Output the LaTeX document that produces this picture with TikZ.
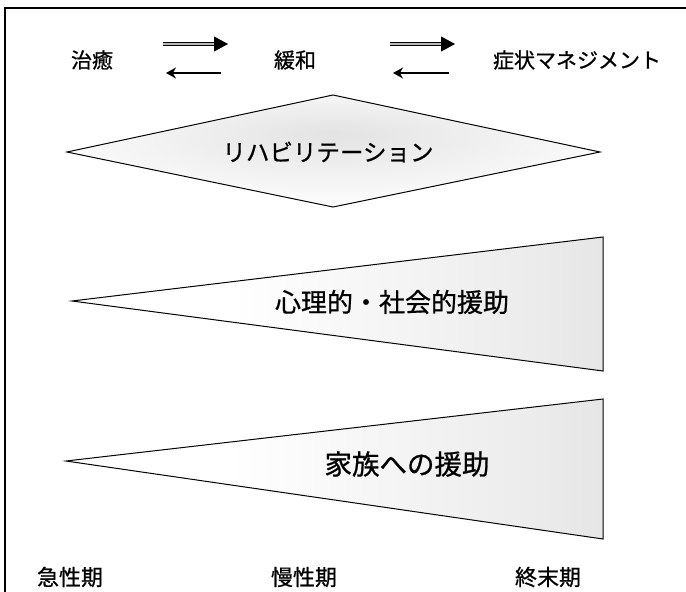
\documentclass[tikz,border=0pt]{standalone}
\usepackage{fontspec}
\setmainfont{Noto Sans CJK JP}[FakeBold=0.8]
\usetikzlibrary{arrows.meta}
\pgfdeclarehorizontalshading{trifade}{100bp}{color(0bp)=(white); color(40bp)=(white); color(70bp)=(black!8); color(100bp)=(black!20)}
\pgfdeclareradialshading{diafade}{\pgfpoint{0bp}{8bp}}{color(0bp)=(black!11); color(14bp)=(black!6); color(30bp)=(white); color(50bp)=(white)}
\tikzset{
  toplabel/.style={font=\fontsize{21}{21}\selectfont, inner sep=0pt},
  biglabel/.style={font=\fontsize{26}{26}\selectfont, inner sep=0pt},
  shapeline/.style={draw=black, line width=1pt, line join=miter},
  fwdarrow/.style={draw=black, line width=0.8pt, double=gray!55, double distance=2.2pt, -{Triangle[length=14pt,width=15pt]}},
  backarrow/.style={draw=black, line width=1.3pt, {Stealth[length=10pt,width=11pt]}-},
  frameline/.style={draw=black, line width=1.3pt}
}
\begin{document}
\begin{tikzpicture}[x=1pt, y=-1pt]
\useasboundingbox (0,0) rectangle (686,592);
% partial frame
\coordinate (fTL) at (5,8);
\coordinate (fTR) at (686,8);
\coordinate (fBL) at (5,592);
\draw[frameline] (fTR) -- (fTL) -- (fBL);

% top row
\node[toplabel] (cure) at (92,60) {治癒};
\node[toplabel] (relief) at (295,60) {緩和};
\node[toplabel] (symptom) at (577,60) {症状マネジメント};
\coordinate (a1s) at (163,44); \coordinate (a1e) at (228,44);
\coordinate (b1s) at (221,73); \coordinate (b1e) at (166,73);
\coordinate (a2s) at (390,44); \coordinate (a2e) at (455,44);
\coordinate (b2s) at (449,73); \coordinate (b2e) at (393,73);
\draw[fwdarrow] (a1s) -- (a1e);
\draw[backarrow] (b1e) -- (b1s);
\draw[fwdarrow] (a2s) -- (a2e);
\draw[backarrow] (b2e) -- (b2s);

% diamond
\coordinate (dL) at (67,152);
\coordinate (dT) at (333,95);
\coordinate (dR) at (600,152);
\coordinate (dB) at (333,207);
\path[shading=diafade] (dL) -- (dT) -- (dR) -- (dB) -- cycle;
\draw[shapeline] (dL) -- (dT) -- (dR) -- (dB) -- cycle;
\node[font=\fontsize{23.5}{24}\selectfont, inner sep=0pt] (rehab) at (328,152) {リハビリテーション};

% triangle 1
\coordinate (t1L) at (72,301);
\coordinate (t1T) at (603,237);
\coordinate (t1B) at (603,371);
\path[shading=trifade] (t1L) -- (t1T) -- (t1B) -- cycle;
\draw[shapeline] (t1L) -- (t1T) -- (t1B) -- cycle;
\node[biglabel] (psych) at (392,302) {心理的・社会的援助};

% triangle 2
\coordinate (t2L) at (66,461);
\coordinate (t2T) at (603,399);
\coordinate (t2B) at (603,539);
\path[shading=trifade] (t2L) -- (t2T) -- (t2B) -- cycle;
\draw[shapeline] (t2L) -- (t2T) -- (t2B) -- cycle;
\node[font=\fontsize{27.5}{28}\selectfont, inner sep=0pt] (family) at (407,464) {家族への援助};

% bottom row
\node[toplabel, font=\fontsize{22}{22}\selectfont] (acute) at (70,577) {急性期};
\node[toplabel, font=\fontsize{22}{22}\selectfont] (chronic) at (304,577) {慢性期};
\node[toplabel, font=\fontsize{22}{22}\selectfont] (terminal) at (548,577) {終末期};
\end{tikzpicture}
\end{document}
